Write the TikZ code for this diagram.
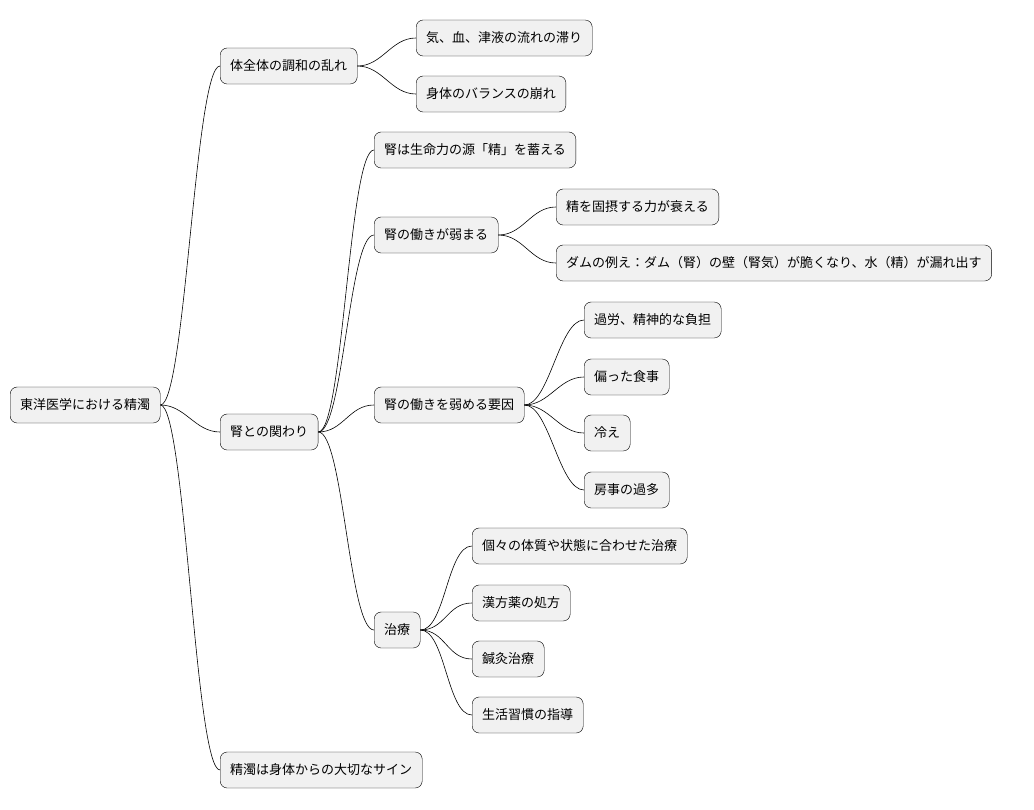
\documentclass[tikz,border=0pt]{standalone}
\usepackage{fontspec}
\newfontfamily\cjk{Noto Sans CJK JP}
\usetikzlibrary{positioning,calc}
\definecolor{boxgray}{RGB}{241,241,241}

\tikzset{
  topic/.style={draw=black, fill=boxgray, rounded corners=7pt, anchor=west,
    minimum height=36pt, inner xsep=10pt, font=\cjk\fontsize{13}{15}\selectfont},
  branch/.style={black, line width=0.6pt}
}

\begin{document}
\begin{tikzpicture}[x=1pt, y=-1pt]
    \useasboundingbox (0,0) rectangle (1034,809);
    % root
    \node[topic] (root) at (10,405) {東洋医学における精濁};
    % first level
    \node[topic] (harmony) at (220,66) {体全体の調和の乱れ};
    \node[topic] (kidney) at (220,432) {腎との関わり};
    \node[topic] (sign) at (220,770) {精濁は身体からの大切なサイン};
    % harmony
    \node[topic] (flow) at (416,38) {気、血、津液の流れの滞り};
    \node[topic] (balance) at (416,94) {身体のバランスの崩れ};
    % kidney
    \node[topic] (store) at (374,150) {腎は生命力の源「精」を蓄える};
    \node[topic] (weak) at (374,235) {腎の働きが弱まる};
    \node[topic] (cause) at (374,405) {腎の働きを弱める要因};
    \node[topic] (cure) at (374,630) {治療};
    % weak
    \node[topic] (hold) at (556,207) {精を固摂する力が衰える};
    \node[topic] (dam) at (556,263) {ダムの例え：ダム（腎）の壁（腎気）が脆くなり、水（精）が漏れ出す};
    % cause
    \node[topic] (work) at (584,320) {過労、精神的な負担};
    \node[topic] (food) at (584,377) {偏った食事};
    \node[topic] (cold) at (584,433) {冷え};
    \node[topic] (sex) at (584,490) {房事の過多};
    % cure
    \node[topic] (each) at (472,546) {個々の体質や状態に合わせた治療};
    \node[topic] (herb) at (472,603) {漢方薬の処方};
    \node[topic] (acu) at (472,659) {鍼灸治療};
    \node[topic] (life) at (472,715) {生活習慣の指導};

    % connectors
    \foreach \p/\c in {root/harmony, root/kidney, root/sign,
        harmony/flow, harmony/balance,
        kidney/store, kidney/weak, kidney/cause, kidney/cure,
        weak/hold, weak/dam,
        cause/work, cause/food, cause/cold, cause/sex,
        cure/each, cure/herb, cure/acu, cure/life}
      \draw[branch] (\p.east) .. controls ($(\p.east)+(25,0)$) and ($(\c.west)+(-25,0)$) .. (\c.west);
\end{tikzpicture}
\end{document}
